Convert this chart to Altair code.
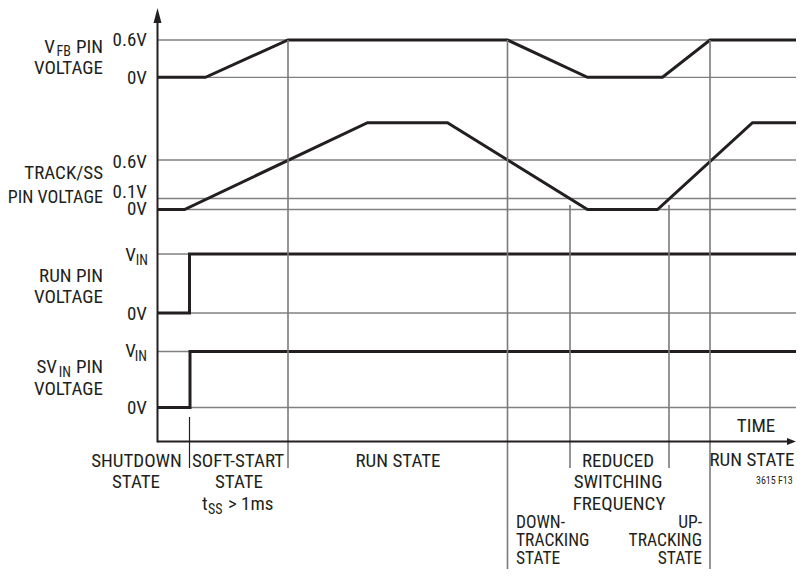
import altair as alt
import pandas as pd

# ---------------- data (time in arbitrary units, voltages in V; VIN normalised to 1) -------------
vfb_t = [0, 4.8, 13.05, 35.0, 43.0, 50.5, 55.25, 64.65]
vfb_v = [0, 0, 0.6, 0.6, 0, 0, 0.6, 0.6]
track_t = [0, 2.7, 21.0, 29.0, 43.0, 50.0, 59.5, 64.65]
track_v = [0, 0, 1.1, 1.1, 0, 0, 1.1, 1.1]
run_t = [0, 3.2, 3.2, 64.65]
run_v = [0, 0, 1, 1]
svin_t = [0, 3.25, 3.25, 64.65]
svin_v = [0, 0, 1, 1]

vfb_levels = [0, 0.6]
track_levels = [0, 0.1, 0.6]
run_levels = [0, 1]
svin_levels = [0, 1]

shutdown_bound = [3.2]
softstart_bound = [13.05]
run_bounds = [35.0, 55.25]
tracking_bounds = [41.25, 51.15]

T_END = 64.65
X_AXIS_END = 63.0
X_ARROW_T = 63.4

INK = "#231f20"
GRID = "#808080"
FONT = "Liberation Sans Narrow, Roboto Condensed, DejaVu Sans Condensed, sans-serif"
OFF = 8  # page margin

xscale = alt.Scale(domain=[0, 64.5], range=[149.5, 794.5], nice=False, zero=False)


def ysc(domain, rng):
    return alt.Scale(domain=domain, range=rng, nice=False, zero=False)


def trace(ts, vs, levels, scale):
    df = pd.DataFrame({"t": ts, "v": vs, "i": list(range(len(ts)))})
    gdf = pd.DataFrame({"v": levels, "t0": [0] * len(levels), "t1": [T_END] * len(levels)})
    grid = alt.Chart(gdf).mark_rule(color=GRID, strokeWidth=1.3).encode(
        x=alt.X("t0:Q", scale=xscale, axis=None),
        x2="t1:Q",
        y=alt.Y("v:Q", scale=scale, axis=None),
    )
    line = alt.Chart(df).mark_line(color=INK, strokeWidth=3, strokeJoin="miter").encode(
        x=alt.X("t:Q", scale=xscale, axis=None),
        y=alt.Y("v:Q", scale=scale, axis=None),
        order="i:Q",
    )
    return alt.layer(grid, line)


vfb_layer = trace(vfb_t, vfb_v, vfb_levels, ysc([0, 0.6], [69.3, 32]))
track_layer = trace(track_t, track_v, track_levels,
                    ysc([0, 0.1, 0.6, 1.1], [201.5, 190.5, 152, 114.7]))
run_layer = trace(run_t, run_v, run_levels, ysc([0, 1], [305, 246]))
svin_layer = trace(svin_t, svin_v, svin_levels, ysc([0, 1], [399.5, 343.5]))


def vrules(times, top, bottom, color, width):
    return alt.Chart(pd.DataFrame({"t": times})).mark_rule(color=color, strokeWidth=width).encode(
        x=alt.X("t:Q", scale=xscale, axis=None),
        y=alt.value(top - OFF),
        y2=alt.value(bottom - OFF),
    )


bounds = [
    vrules(shutdown_bound, 417, 468, INK, 1.2),
    vrules(softstart_bound, 40, 468, "#7a7a7a", 1.6),
    vrules(run_bounds, 40, 577, "#7a7a7a", 1.6),
    vrules(tracking_bounds, 205, 468, "#7a7a7a", 1.6),
]

one = alt.Data(values=[{"t": 0}])
y_axis = alt.Chart(one).mark_rule(color=INK, strokeWidth=2).encode(
    x=alt.X("t:Q", scale=xscale, axis=None),
    y=alt.value(14 - OFF),
    y2=alt.value(442.5 - OFF),
)
x_axis = alt.Chart(pd.DataFrame({"t0": [0], "t1": [X_AXIS_END]})).mark_rule(color=INK, strokeWidth=2).encode(
    x=alt.X("t0:Q", scale=xscale, axis=None),
    x2="t1:Q",
    y=alt.value(441.5 - OFF),
)
y_arrow = alt.Chart(one).mark_point(
    shape="M0,-1L0.53,1L-0.53,1Z", size=225, filled=True, color=INK, opacity=1
).encode(x=alt.X("t:Q", scale=xscale, axis=None), y=alt.value(15.5 - OFF))
x_arrow = alt.Chart(pd.DataFrame({"t": [X_ARROW_T]})).mark_point(
    shape="M1,0L-1,0.78L-1,-0.78Z", size=81, filled=True, color=INK, opacity=1
).encode(x=alt.X("t:Q", scale=xscale, axis=None), y=alt.value(441.5 - OFF))


def txt(s, x, y, align="right", size=19):
    return alt.Chart(alt.Data(values=[{}])).mark_text(
        text=s, align=align, baseline="alphabetic", font=FONT, fontSize=size, color=INK
    ).encode(x=alt.value(x - OFF), y=alt.value(y - OFF))


SUB = 14
TRK = 17.5
texts = [
    # V_FB
    txt("V", 55, 53), txt("FB", 71, 56, size=SUB), txt("PIN", 103, 53), txt("VOLTAGE", 103, 74),
    txt("0.6V", 147, 46), txt("0V", 147, 84),
    # TRACK/SS
    txt("TRACK/SS", 103, 179), txt("PIN VOLTAGE", 103, 203, size=18),
    txt("0.6V", 147, 168), txt("0.1V", 147, 198), txt("0V", 147, 215),
    # RUN
    txt("V", 136, 261), txt("IN", 148, 265, size=SUB), txt("RUN PIN", 103, 282), txt("VOLTAGE", 103, 303),
    txt("0V", 147, 320),
    # SVIN
    txt("V", 136, 357), txt("IN", 147, 361, size=SUB),
    txt("SV", 57, 373), txt("IN", 71, 377, size=SUB), txt("PIN", 103, 373), txt("VOLTAGE", 103, 395),
    txt("0V", 147, 414),
    # bottom states
    txt("SHUTDOWN", 136.5, 467, "center"), txt("STATE", 136, 488, "center"),
    txt("SOFT-START", 238, 467, "center"), txt("STATE", 239, 488, "center"),
    txt("t", 202, 510, "left"), txt("SS", 208, 514, "left", SUB), txt("> 1ms", 228, 510, "left"),
    txt("RUN STATE", 398, 467, "center"),
    txt("REDUCED", 618, 467, "center"), txt("SWITCHING", 618, 488, "center"),
    txt("FREQUENCY", 619, 510, "center"),
    txt("DOWN-", 516, 528, "left", TRK), txt("TRACKING", 516, 546, "left", TRK),
    txt("STATE", 516, 564, "left", TRK),
    txt("UP-", 702, 528, size=TRK), txt("TRACKING", 702, 546, size=TRK), txt("STATE", 702, 564, size=TRK),
    txt("RUN STATE", 752, 466, "center"),
    txt("TIME", 756, 432, "center"),
    txt("3615 F13", 756, 484, "left", 10),
]

chart = alt.layer(
    vfb_layer, track_layer, run_layer, svin_layer,
    *bounds, y_axis, x_axis, y_arrow, x_arrow, *texts
).resolve_scale(y="independent").properties(
    width=788, height=561, padding=0, autosize="none", background="white"
).configure_view(stroke=None)

chart.save("out.html", embed_options={"renderer": "svg", "actions": False})
